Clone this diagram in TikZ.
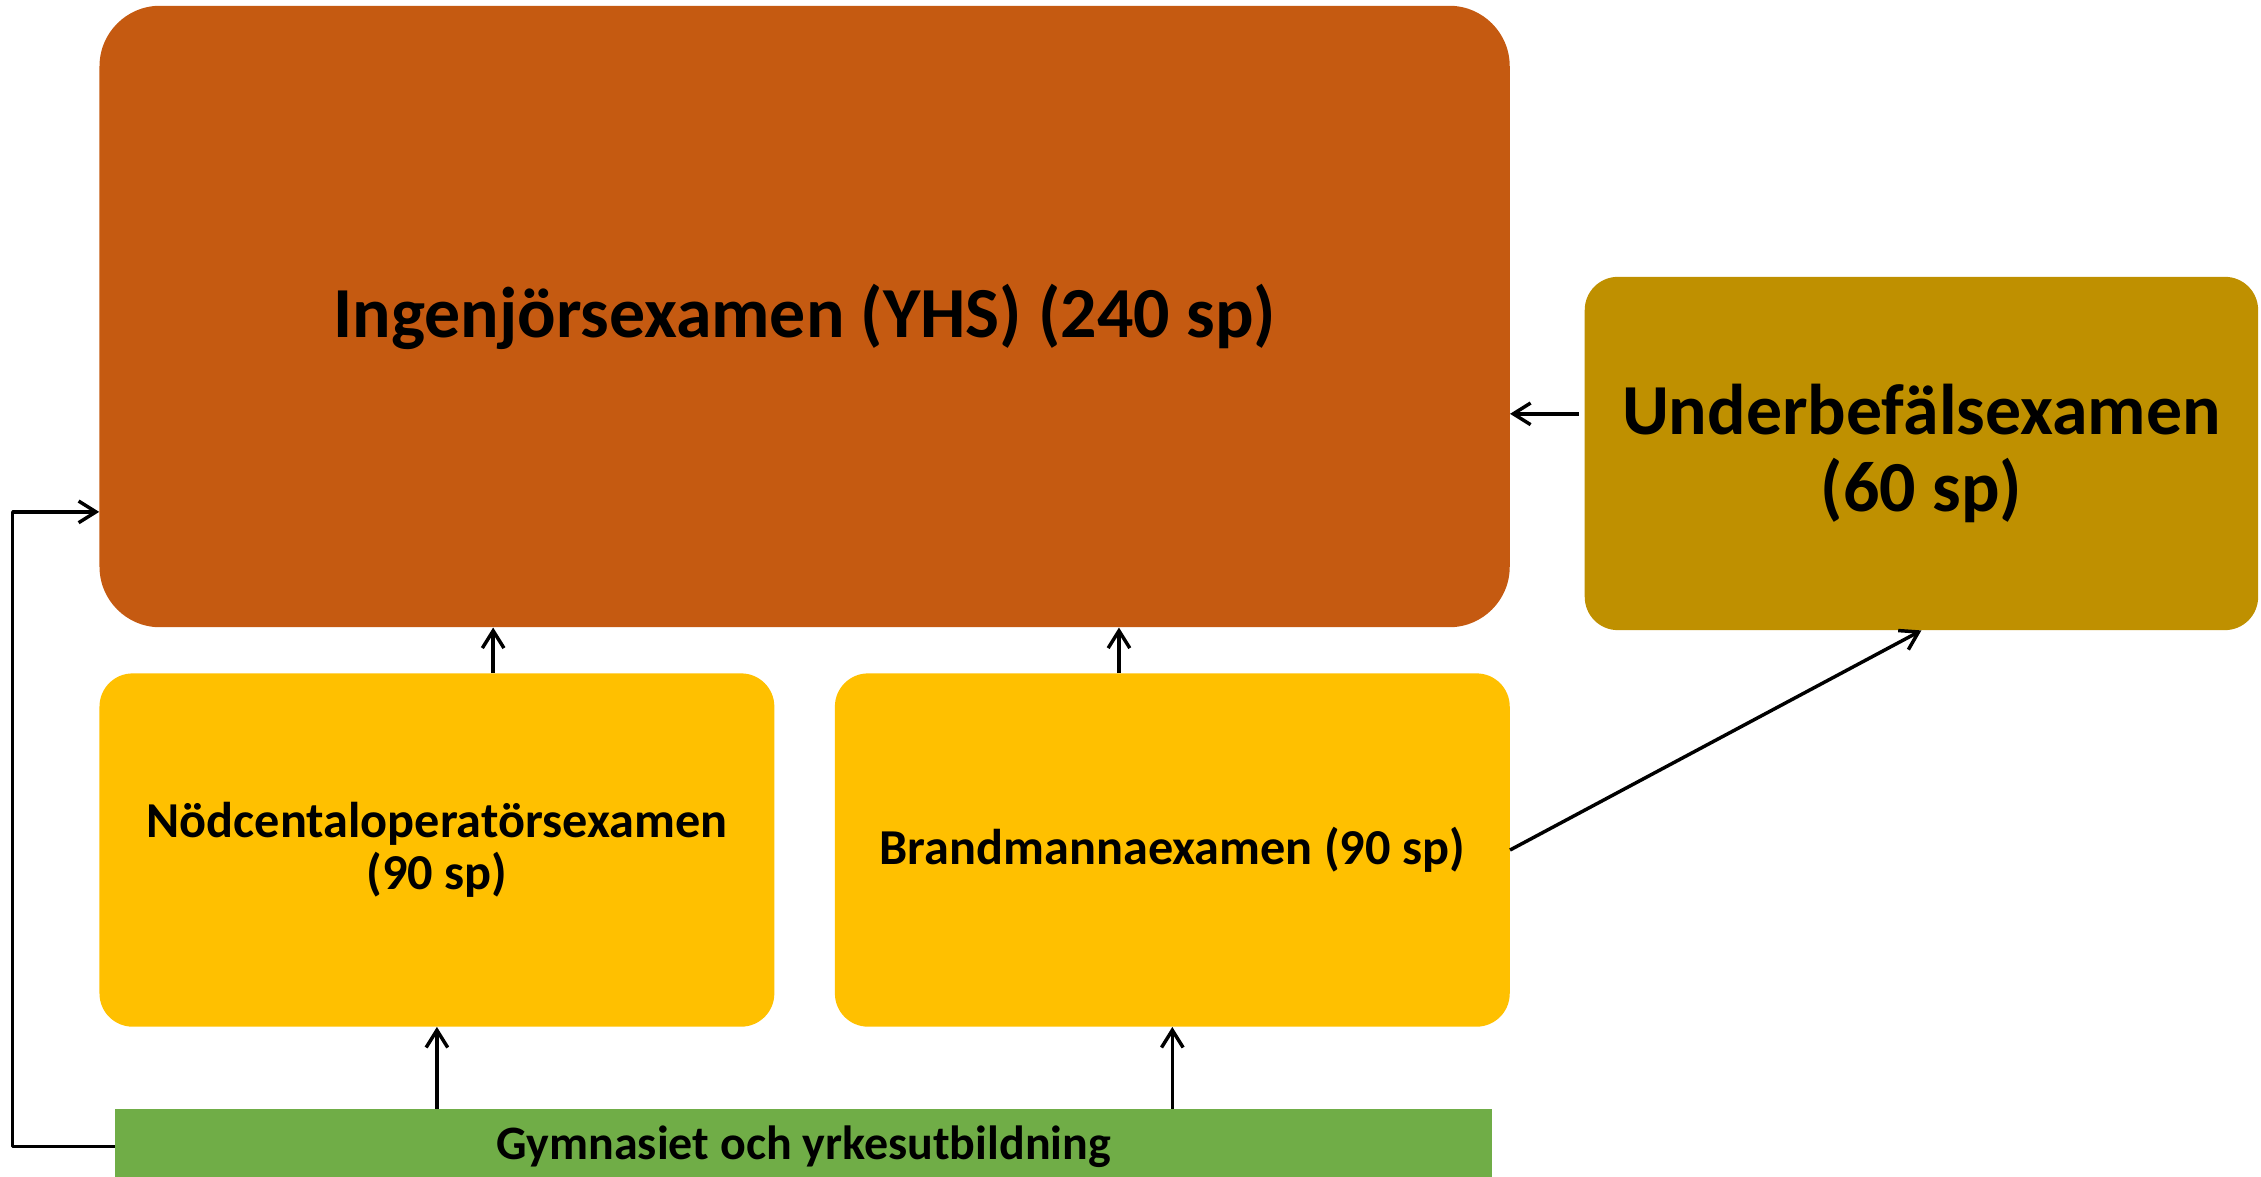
\documentclass[tikz,border=0pt]{standalone}
\usepackage{fontspec}
\setmainfont{Carlito}
\usetikzlibrary{positioning,arrows.meta}

\definecolor{yhsorange}{RGB}{197,90,17}
\definecolor{ubfgold}{RGB}{191,144,0}
\definecolor{grundgul}{RGB}{255,192,0}
\definecolor{gymgreen}{RGB}{112,173,71}

\tikzset{
  examen/.style={draw=none,rounded corners=23bp,align=center,font=\bfseries,inner sep=0pt},
  pil/.style={black,-{Straight Barb[length=12bp,width=15bp,line width=2.4bp]},line width=2.4bp},
}

\begin{document}
\begin{tikzpicture}[line join=bevel,]
%%
\useasboundingbox (0bp,0bp) rectangle (1568bp,816bp);
\node (yhs) at (558bp,596.5bp) [examen,fill=yhsorange,rounded corners=42bp,minimum width=978bp,minimum height=431bp,font=\fontsize{50}{60}\bfseries] {Ingenjörsexamen (YHS) (240 sp)};
  \node (ubf) at (1332.5bp,501.5bp) [examen,fill=ubfgold,minimum width=467bp,minimum height=245bp,font=\fontsize{50}{53}\bfseries] {Underbefälsexamen\\(60 sp)};
  \node (nod) at (303bp,226.5bp) [examen,fill=grundgul,minimum width=468bp,minimum height=245bp,font=\fontsize{35}{36}\bfseries] {Nödcentaloperatörsexamen\\(90 sp)};
  \node (brand) at (813bp,226.5bp) [examen,fill=grundgul,minimum width=468bp,minimum height=245bp,font=\fontsize{35}{36}\bfseries] {Brandmannaexamen (90 sp)};
  \node (gym) at (557.5bp,21bp) [examen,fill=gymgreen,rounded corners=0bp,minimum width=955bp,minimum height=52bp,font=\fontsize{33.4}{40}\bfseries] {Gymnasiet och yrkesutbildning};
  \draw [pil] (gym.north -| nod.south) -- (nod.south);
  \draw [pil] (gym.north -| brand.south) -- (brand.south);
  \draw [pil] ([xshift=39bp]nod.north) -- ([xshift=39bp]nod.north |- yhs.south);
  \draw [pil] ([xshift=-37bp]brand.north) -- ([xshift=-37bp]brand.north |- yhs.south);
  \draw [pil] (brand.east) -- (ubf.south);
  \draw [pil,shorten <=4bp] ([yshift=27.5bp]ubf.west) -- ([yshift=27.5bp]ubf.west -| yhs.east);
  \draw [pil] (gym.west) -- ++(-71bp,0bp) |- ([yshift=-135.5bp]yhs.west);
%
\end{tikzpicture}
\end{document}
